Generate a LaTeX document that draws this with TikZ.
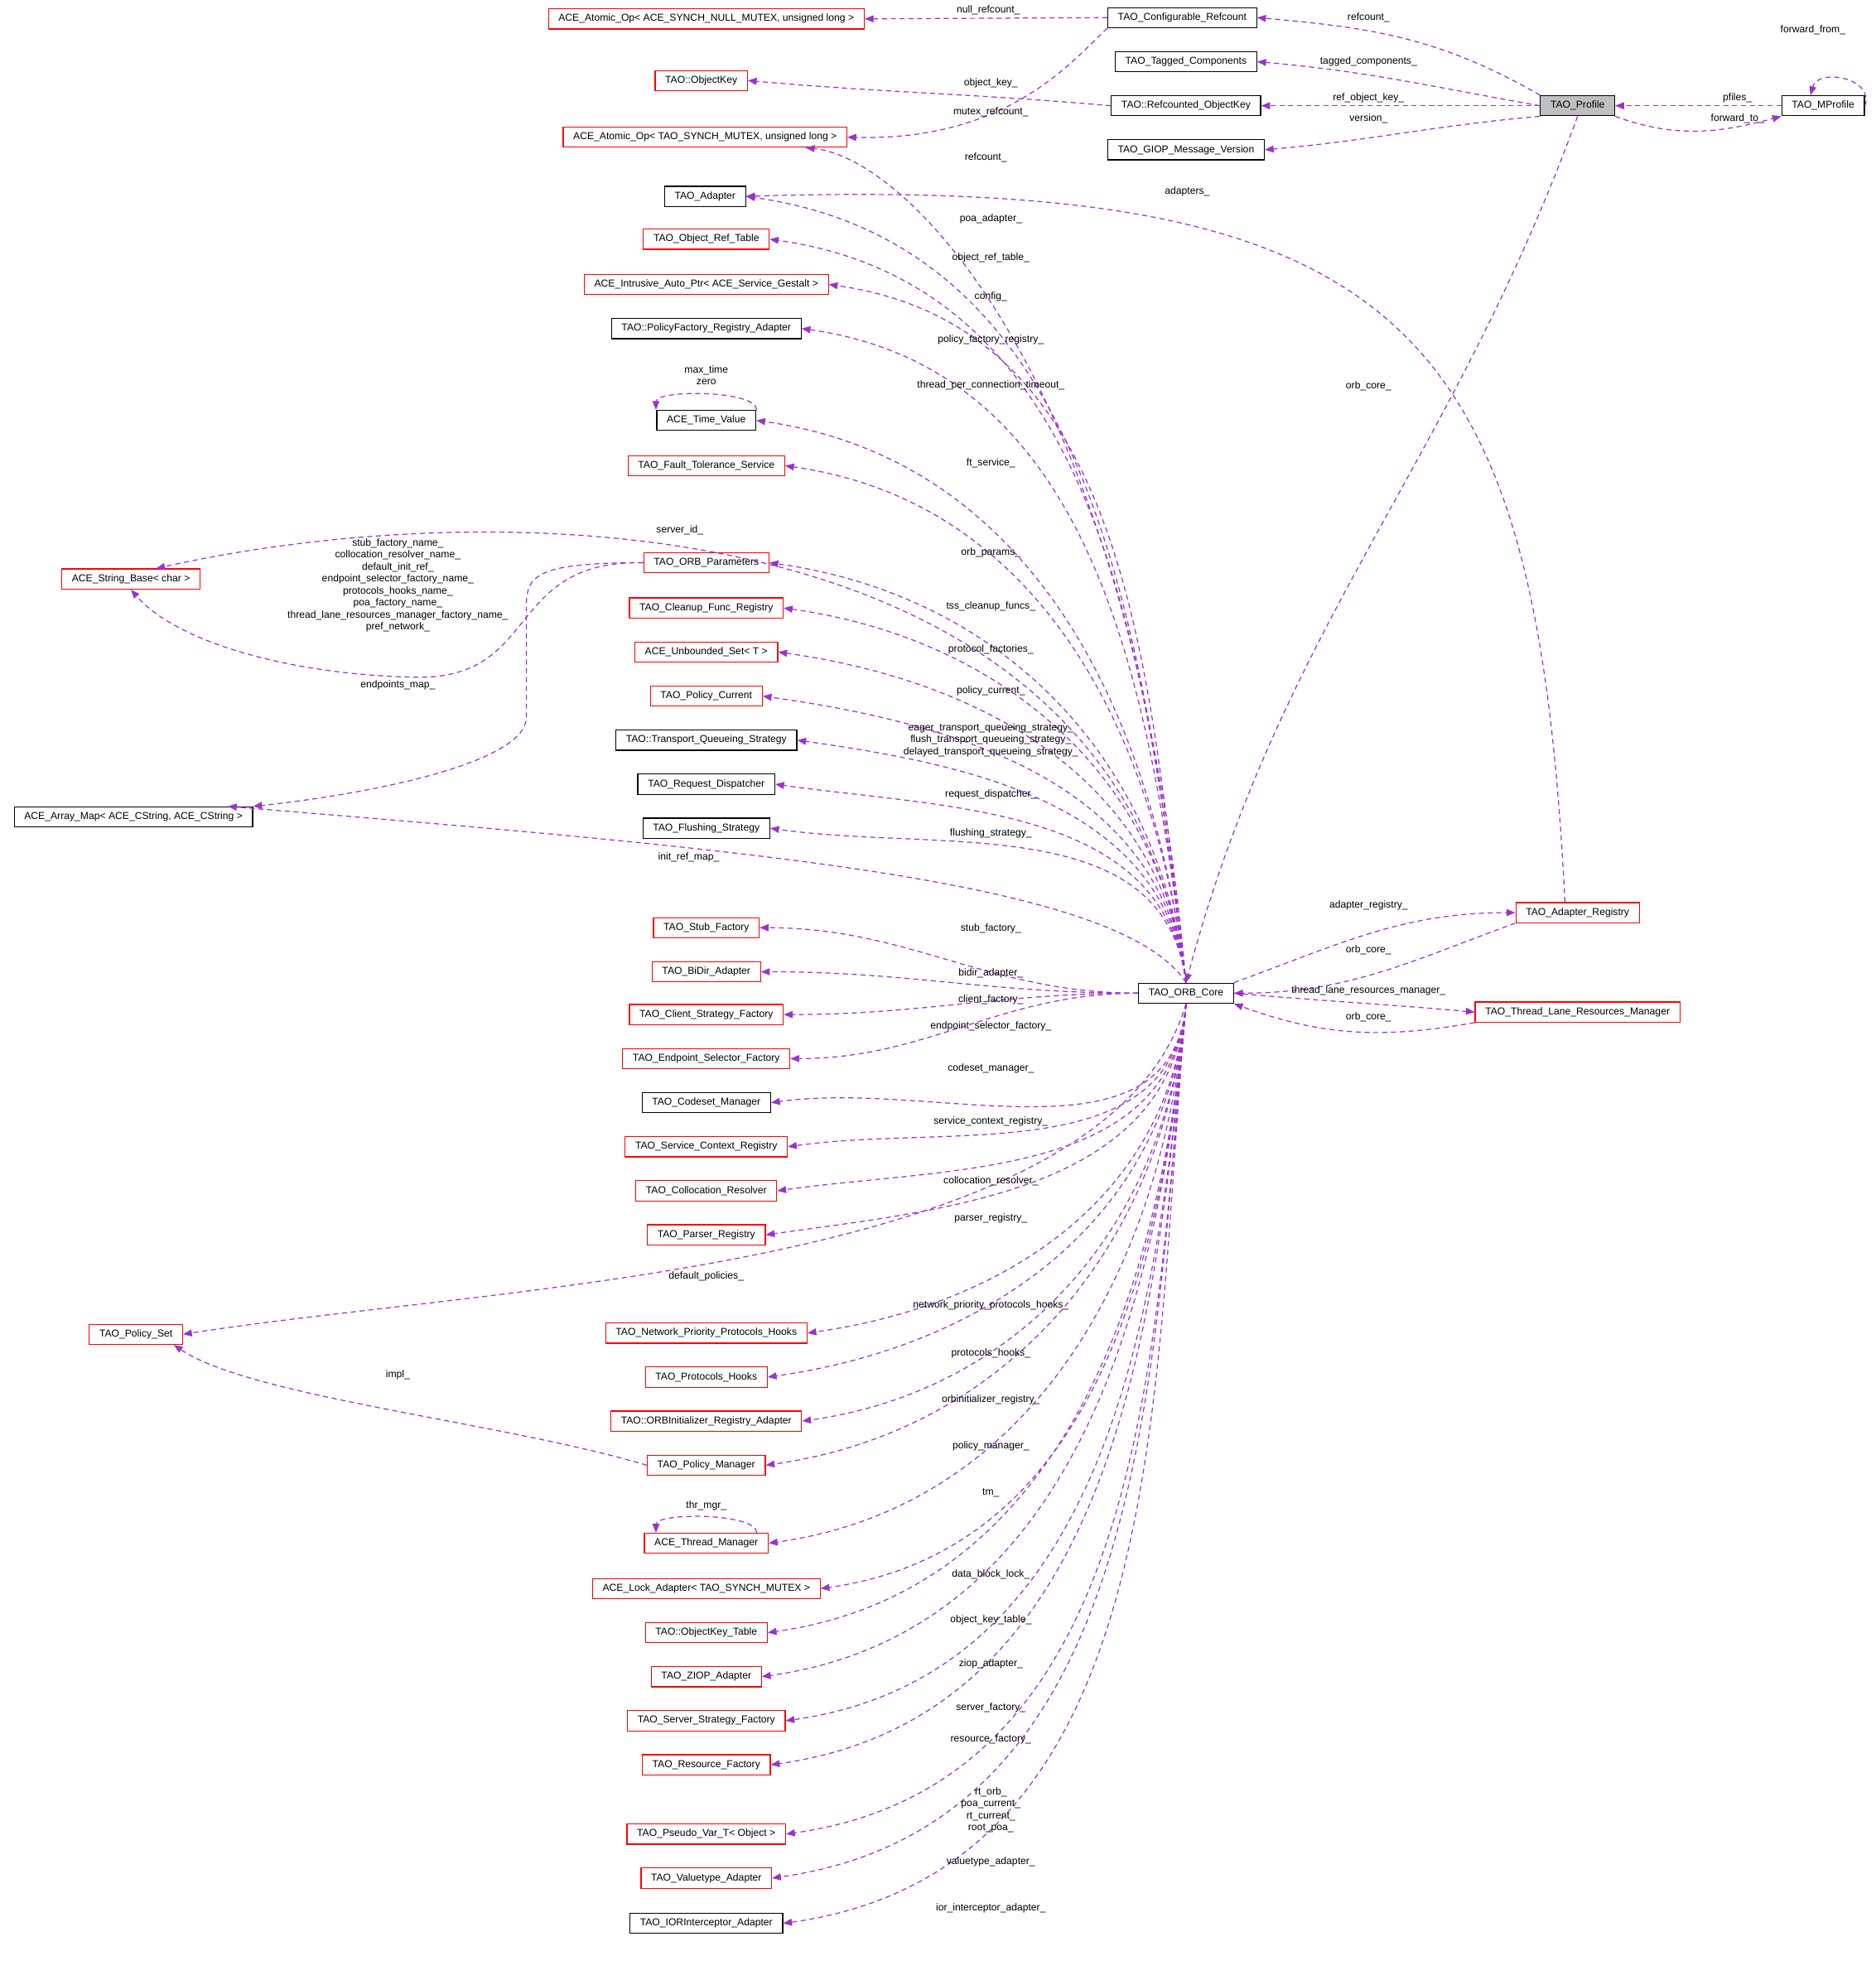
\documentclass[tikz,border=0pt]{standalone}
\usepackage{fontspec}
\setmainfont{Liberation Sans}
\usetikzlibrary{arrows.meta}
\definecolor{ec}{HTML}{9A32CD}
\tikzset{
 bx/.style={draw=black,fill=white,line width=0.8pt,font=\fontsize{8}{9.5}\selectfont,inner xsep=8pt,minimum height=16pt,inner ysep=0pt},
 rb/.style={bx,draw=red},
 lb/.style={font=\fontsize{8}{9.5}\selectfont,inner sep=0pt,align=center},
 e/.style={draw=ec,dashed,dash pattern=on 4pt off 3pt,line width=0.8pt,-{Triangle[length=7pt,width=5.5pt,fill=ec]}},
}
\begin{document}
\begin{tikzpicture}[x=1pt,y=1pt]
\useasboundingbox (0,0) rectangle (1490,-1569);
% top
\node[rb] (a1) at (561,-15) {ACE\_Atomic\_Op< ACE\_SYNCH\_NULL\_MUTEX, unsigned long >};
\node[bx] (cfg) at (939,-14) {TAO\_Configurable\_Refcount};
\node[rb] (ok) at (557,-64) {TAO::ObjectKey};
\node[bx] (tc) at (942,-49) {TAO\_Tagged\_Components};
\node[bx] (rok) at (942,-84) {TAO::Refcounted\_ObjectKey};
\node[rb] (a2) at (560,-109) {ACE\_Atomic\_Op< TAO\_SYNCH\_MUTEX, unsigned long >};
\node[bx] (gv) at (942,-119) {TAO\_GIOP\_Message\_Version};
\node[bx,fill=black!25] (prof) at (1253,-84) {TAO\_Profile};
\node[bx] (mp) at (1448,-84) {TAO\_MProfile};
% left column
\node[bx] (ad) at (560,-156) {TAO\_Adapter};
\node[rb] (ort) at (561,-190) {TAO\_Object\_Ref\_Table};
\node[rb] (iap) at (561,-226) {ACE\_Intrusive\_Auto\_Ptr< ACE\_Service\_Gestalt >};
\node[bx] (pfr) at (561,-261) {TAO::PolicyFactory\_Registry\_Adapter};
\node[bx] (tv) at (561,-334) {ACE\_Time\_Value};
\node[rb] (ft) at (561,-370) {TAO\_Fault\_Tolerance\_Service};
\node[rb] (sb) at (104,-460) {ACE\_String\_Base< char >};
\node[rb] (op) at (561,-447) {TAO\_ORB\_Parameters};
\node[rb] (cfr) at (561,-483) {TAO\_Cleanup\_Func\_Registry};
\node[rb] (us) at (561,-518) {ACE\_Unbounded\_Set< T >};
\node[rb] (pc) at (561,-553) {TAO\_Policy\_Current};
\node[bx] (tqs) at (561,-588) {TAO::Transport\_Queueing\_Strategy};
\node[bx] (rd) at (561,-623) {TAO\_Request\_Dispatcher};
\node[bx] (fs) at (561,-658) {TAO\_Flushing\_Strategy};
\node[bx] (am) at (106,-649) {ACE\_Array\_Map< ACE\_CString, ACE\_CString >};
\node[rb] (sf) at (561,-737) {TAO\_Stub\_Factory};
\node[rb] (bd) at (561,-772) {TAO\_BiDir\_Adapter};
\node[rb] (csf) at (561,-806) {TAO\_Client\_Strategy\_Factory};
\node[rb] (esf) at (561,-841) {TAO\_Endpoint\_Selector\_Factory};
\node[bx] (cm) at (561,-876) {TAO\_Codeset\_Manager};
\node[rb] (scr) at (561,-911) {TAO\_Service\_Context\_Registry};
\node[rb] (cr) at (561,-946) {TAO\_Collocation\_Resolver};
\node[rb] (pr) at (561,-981) {TAO\_Parser\_Registry};
\node[rb] (ps) at (108,-1060) {TAO\_Policy\_Set};
\node[rb] (npph) at (561,-1059) {TAO\_Network\_Priority\_Protocols\_Hooks};
\node[rb] (ph) at (561,-1094) {TAO\_Protocols\_Hooks};
\node[rb] (oir) at (561,-1129) {TAO::ORBInitializer\_Registry\_Adapter};
\node[rb] (pm) at (561,-1164) {TAO\_Policy\_Manager};
\node[rb] (tm) at (561,-1226) {ACE\_Thread\_Manager};
\node[rb] (la) at (561,-1262) {ACE\_Lock\_Adapter< TAO\_SYNCH\_MUTEX >};
\node[rb] (okt) at (561,-1297) {TAO::ObjectKey\_Table};
\node[rb] (zi) at (561,-1332) {TAO\_ZIOP\_Adapter};
\node[rb] (ssf) at (561,-1367) {TAO\_Server\_Strategy\_Factory};
\node[rb] (rf) at (561,-1402) {TAO\_Resource\_Factory};
\node[rb] (pv) at (561,-1457) {TAO\_Pseudo\_Var\_T< Object >};
\node[rb] (va) at (561,-1492) {TAO\_Valuetype\_Adapter};
\node[bx] (ia) at (561,-1528) {TAO\_IORInterceptor\_Adapter};
% right
\node[bx] (core) at (942,-789) {TAO\_ORB\_Core};
\node[rb] (ar) at (1253,-725) {TAO\_Adapter\_Registry};
\node[rb] (tl) at (1253,-804) {TAO\_Thread\_Lane\_Resources\_Manager};

% top edges
\draw[e] (cfg.west) -- (a1.east);
\draw[e] (cfg.south west) .. controls (850,-50) and (800,-112) .. (a2.east);
\draw[e] (rok.west) to[out=175,in=-5] (ok.east);
\draw[e] (prof.north west) to[out=150,in=-5] (cfg.east);
\draw[e] (prof.west) to[out=170,in=-5] (tc.east);
\draw[e] (prof.west) -- (rok.east);
\draw[e] (prof.south west) to[out=185,in=5] (gv.east);
\draw[e] (mp.west) -- (prof.east);
\draw[e] (prof.south east) to[out=-20,in=-165] (mp.south west);
\draw[e] (mp.east) .. controls +(8,22) and +(6,22) .. ([xshift=-10pt]mp.north);
\draw[e] (prof.south) to[out=250,in=75] (core.north);
\draw[e] ([xshift=-10pt]ar.north) .. controls (1220,-260) and (1120,-140) .. (ad.east);
\draw[e] (core.north east) to[out=20,in=180] (ar.west);
\draw[e] (ar.south west) to[out=200,in=0] (core.east);
\draw[e] (core.east) to[out=-5,in=175] (tl.west);
\draw[e] (tl.south west) to[out=190,in=-20] (core.south east);
\draw[e] ([xshift=40pt]tv.north) .. controls +(0,16) and +(0,16) .. ([xshift=-40pt]tv.north);
\draw[e] ([xshift=40pt]tm.north) .. controls +(0,16) and +(0,16) .. ([xshift=-40pt]tm.north);
% core upward
\draw[e] (core.north) .. controls (900,-300) and (720,-125) .. ([xshift=80pt]a2.south);
\foreach \t in {ad,ort,iap,pfr,tv,ft,op,cfr,us,pc,tqs,rd,fs}
  \draw[e] (core.north) to[out=97,in=-8] (\t.east);
\draw[e] (core.north) .. controls (890,-400) and (400,-390) .. ([xshift=20pt]sb.north);
\draw[e] (core.north) .. controls (890,-700) and (600,-675) .. ([xshift=75pt]am.north);
\foreach \t in {sf,bd,csf,esf}
  \draw[e] (core.west) to[out=180,in=0] (\t.east);
\foreach \t in {cm,scr,cr,pr,npph,ph,oir,pm,tm,la,okt,zi,ssf,rf,pv,va,ia}
  \draw[e] (core.south) to[out=265,in=8] (\t.east);
\draw[e] (core.south) .. controls (880,-1010) and (400,-1020) .. (ps.east);
\draw[e] (op.west) .. controls (400,-445) and (430,-540) .. (330,-538) .. controls (230,-536) and (140,-510) .. (sb.south);
\draw[e] (op.west) .. controls (415,-447) and (418,-460) .. (418,-490) -- (418,-570) .. controls (418,-605) and (300,-630) .. (am.north east);
\draw[e] (pm.west) .. controls (400,-1130) and (200,-1110) .. ([xshift=30pt]ps.south);

% labels
\node[lb] (l1) at (785,-8) {null\_refcount\_};
\node[lb] (l2) at (787,-66) {object\_key\_};
\node[lb] (l3) at (787,-89) {mutex\_refcount\_};
\node[lb] (l4) at (783,-125) {refcount\_};
\node[lb] (l5) at (1087,-14) {refcount\_};
\node[lb] (l6) at (1087,-49) {tagged\_components\_};
\node[lb] (l7) at (1087,-78) {ref\_object\_key\_};
\node[lb] (l8) at (1087,-94) {version\_};
\node[lb] (l9) at (1087,-307) {orb\_core\_};
\node[lb] (l10) at (1380,-78) {pfiles\_};
\node[lb] (l11) at (1380,-94) {forward\_to\_};
\node[lb] (l12) at (1440,-24) {forward\_from\_};
\node[lb] (l13) at (943,-152) {adapters\_};
\node[lb] (l14) at (1087,-719) {adapter\_registry\_};
\node[lb] (l15) at (1087,-755) {orb\_core\_};
\node[lb] (l16) at (1087,-787) {thread\_lane\_resources\_manager\_};
\node[lb] (l17) at (1087,-808) {orb\_core\_};
\node[lb] (l18) at (561,-298) {max\_time\\zero};
\node[lb] (l19) at (540,-421) {server\_id\_};
\node[lb] (l20) at (316,-465) {stub\_factory\_name\_\\collocation\_resolver\_name\_\\default\_init\_ref\_\\endpoint\_selector\_factory\_name\_\\protocols\_hooks\_name\_\\poa\_factory\_name\_\\thread\_lane\_resources\_manager\_factory\_name\_\\pref\_network\_};
\node[lb] (l21) at (316,-544) {endpoints\_map\_};
\node[lb] (l22) at (547,-681) {init\_ref\_map\_};
\node[lb] (l23) at (561,-1014) {default\_policies\_};
\node[lb] (l24) at (316,-1092) {impl\_};
\node[lb] (l25) at (561,-1196) {thr\_mgr\_};
\node[lb] (l26) at (787,-588) {eager\_transport\_queueing\_strategy\_\\flush\_transport\_queueing\_strategy\_\\delayed\_transport\_queueing\_strategy\_};
\node[lb] (l27) at (787,-1438) {rt\_orb\_\\poa\_current\_\\rt\_current\_\\root\_poa\_};
\node[lb] (m1) at (787,-174) {poa\_adapter\_};
\node[lb] (m2) at (787,-205) {object\_ref\_table\_};
\node[lb] (m3) at (787,-236) {config\_};
\node[lb] (m4) at (787,-270) {policy\_factory\_registry\_};
\node[lb] (m5) at (787,-306) {thread\_per\_connection\_timeout\_};
\node[lb] (m6) at (787,-368) {ft\_service\_};
\node[lb] (m7) at (787,-439) {orb\_params\_};
\node[lb] (m8) at (787,-482) {tss\_cleanup\_funcs\_};
\node[lb] (m9) at (787,-516) {protocol\_factories\_};
\node[lb] (m10) at (787,-549) {policy\_current\_};
\node[lb] (m11) at (787,-631) {request\_dispatcher\_};
\node[lb] (m12) at (787,-662) {flushing\_strategy\_};
\node[lb] (m13) at (787,-738) {stub\_factory\_};
\node[lb] (m14) at (787,-773) {bidir\_adapter\_};
\node[lb] (m15) at (787,-794) {client\_factory\_};
\node[lb] (m16) at (787,-815) {endpoint\_selector\_factory\_};
\node[lb] (m17) at (787,-849) {codeset\_manager\_};
\node[lb] (m18) at (787,-891) {service\_context\_registry\_};
\node[lb] (m19) at (787,-938) {collocation\_resolver\_};
\node[lb] (m20) at (787,-968) {parser\_registry\_};
\node[lb] (m21) at (787,-1037) {network\_priority\_protocols\_hooks\_};
\node[lb] (m22) at (787,-1075) {protocols\_hooks\_};
\node[lb] (m23) at (787,-1112) {orbinitializer\_registry\_};
\node[lb] (m24) at (787,-1149) {policy\_manager\_};
\node[lb] (m25) at (787,-1186) {tm\_};
\node[lb] (m26) at (787,-1251) {data\_block\_lock\_};
\node[lb] (m27) at (787,-1287) {object\_key\_table\_};
\node[lb] (m28) at (787,-1322) {ziop\_adapter\_};
\node[lb] (m29) at (787,-1357) {server\_factory\_};
\node[lb] (m30) at (787,-1382) {resource\_factory\_};
\node[lb] (m31) at (787,-1479) {valuetype\_adapter\_};
\node[lb] (m32) at (787,-1516) {ior\_interceptor\_adapter\_};
\end{tikzpicture}
\end{document}
